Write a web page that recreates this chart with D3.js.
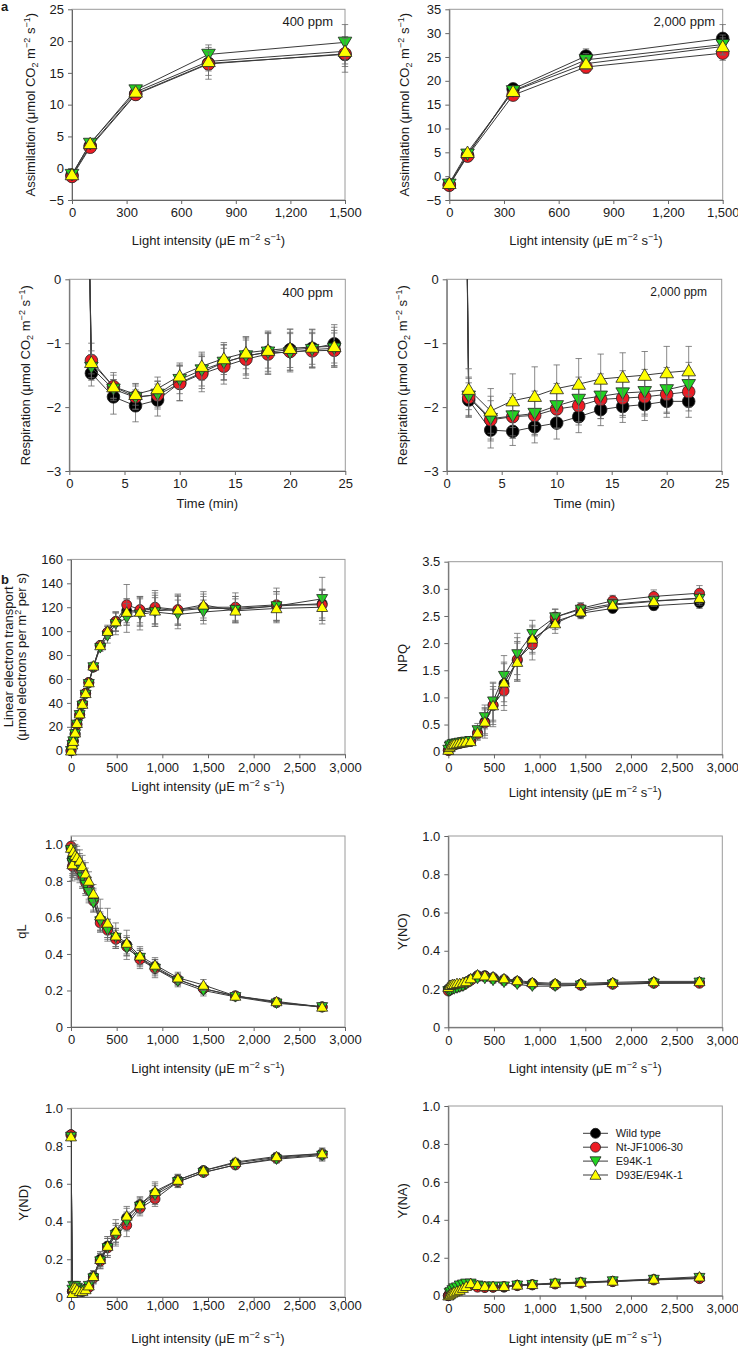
<!DOCTYPE html>
<html><head><meta charset="utf-8">
<script src="https://cdn.jsdelivr.net/npm/d3@7"></script>
<style>
body{margin:0;background:#fff}
svg{display:block}
text{font-family:"Liberation Sans",Arial,Helvetica,sans-serif;fill:#1a1a1a}
</style>
</head><body>
<svg id="c" width="738" height="1347"></svg>
<script>
// ---------- data ----------
const SERIES = ["Wild type", "Nt-JF1006-30", "E94K-1", "D93E/E94K-1"];
const COLORS = ["#000000", "#ec1c24", "#22d322", "#ffff00"];
const SHAPES = ["circle", "circle", "down", "up"];

const LIGHT_A = [0, 100, 350, 750, 1500];
const A400_VAL = [
  [-1.1, 3.5, 11.7, 16.5, 17.9],
  [-1.3, 3.3, 11.6, 16.4, 18.0],
  [-1.0, 3.9, 12.3, 17.9, 19.8],
  [-1.0, 3.9, 12.0, 16.8, 18.4]
];
const A400_ERR = [
  [0.4, 0.5, 0.8, 2.5, 2.8],
  [0.4, 0.5, 0.6, 1.8, 2.0],
  [0.4, 0.5, 0.6, 1.5, 2.8],
  [0.4, 0.5, 0.6, 1.5, 2.0]
];
const A2000_VAL = [
  [-1.8, 4.4, 18.3, 25.2, 28.9],
  [-1.9, 4.2, 17.0, 22.9, 25.8],
  [-1.7, 4.6, 17.9, 24.4, 27.6],
  [-1.5, 5.0, 17.8, 23.6, 27.2]
];
const A2000_ERR = [
  [0.5, 0.5, 0.6, 1.5, 2.9],
  [0.5, 0.5, 0.6, 1.3, 1.5],
  [0.5, 0.5, 0.6, 1.3, 2.0],
  [0.5, 0.5, 0.6, 1.2, 1.8]
];

const TIME_400 = [0, 2, 4, 6, 8, 10, 12, 14, 16, 18, 20, 22, 24];
const R400_VAL = [
  [17.9, -1.47, -1.84, -1.98, -1.89, -1.62, -1.46, -1.30, -1.20, -1.14, -1.10, -1.08, -1.01],
  [18.0, -1.27, -1.68, -1.84, -1.81, -1.63, -1.48, -1.36, -1.25, -1.17, -1.13, -1.12, -1.11],
  [19.8, -1.38, -1.72, -1.85, -1.80, -1.57, -1.42, -1.30, -1.20, -1.14, -1.15, -1.10, -1.08],
  [18.4, -1.30, -1.68, -1.80, -1.71, -1.51, -1.36, -1.24, -1.15, -1.11, -1.08, -1.06, -1.05]
];
const R400_ERR = [
  [0, 0.20, 0.27, 0.25, 0.25, 0.28, 0.25, 0.28, 0.30, 0.33, 0.32, 0.30, 0.30],
  [0, 0.27, 0.22, 0.20, 0.22, 0.27, 0.28, 0.28, 0.30, 0.32, 0.30, 0.27, 0.27],
  [0, 0.20, 0.15, 0.18, 0.20, 0.22, 0.25, 0.27, 0.28, 0.30, 0.30, 0.27, 0.28],
  [0, 0.18, 0.18, 0.17, 0.18, 0.20, 0.22, 0.25, 0.25, 0.28, 0.30, 0.27, 0.30]
];

const TIME_2000 = [0, 2, 4, 6, 8, 10, 12, 14, 16, 18, 20, 22];
const R2000_VAL = [
  [28.9, -1.89, -2.36, -2.38, -2.31, -2.25, -2.15, -2.04, -1.99, -1.96, -1.91, -1.91],
  [25.8, -1.85, -2.20, -2.15, -2.13, -2.03, -1.98, -1.88, -1.86, -1.84, -1.80, -1.76],
  [27.6, -1.83, -2.18, -2.14, -2.10, -1.98, -1.88, -1.83, -1.78, -1.76, -1.73, -1.65],
  [27.2, -1.72, -2.06, -1.90, -1.83, -1.71, -1.64, -1.56, -1.53, -1.50, -1.46, -1.43]
];
const R2000_ERR = [
  [0, 0.27, 0.28, 0.22, 0.25, 0.25, 0.25, 0.25, 0.25, 0.25, 0.25, 0.25],
  [0, 0.30, 0.30, 0.30, 0.30, 0.30, 0.30, 0.30, 0.30, 0.30, 0.30, 0.30],
  [0, 0.30, 0.35, 0.35, 0.35, 0.35, 0.35, 0.35, 0.35, 0.35, 0.35, 0.35],
  [0, 0.32, 0.35, 0.42, 0.46, 0.37, 0.40, 0.39, 0.38, 0.37, 0.41, 0.38]
];

const LIGHT_B = [0, 15, 25, 45, 65, 95, 125, 160, 195, 245, 320, 400, 490, 610, 755, 920, 1170, 1450, 1800, 2250, 2750];
const LET_VAL = [
  [0, 5, 8, 14, 22, 30, 39, 48, 57, 70, 88, 99, 108, 117, 117, 119, 117, 119, 119, 121, 123],
  [0, 5, 8, 14, 22, 30, 39, 48, 57, 70, 88, 99, 108, 122, 118, 120, 118, 120, 120, 122, 122],
  [0, 5, 8, 14, 22, 30, 38, 47, 56, 70, 86, 96, 106, 111, 114, 116, 114, 116, 118, 121, 127],
  [0, 5, 8, 15, 23, 31, 39, 48, 57, 71, 88, 100, 108, 116, 116, 117, 118, 122, 117, 119, 120]
];
const LET_ERR = [
  [0, 1, 1, 1, 1, 2, 2, 2, 2, 3, 3, 5, 8, 10, 12, 13, 12, 10, 10, 12, 12],
  [0, 1, 1, 1, 1, 2, 2, 2, 2, 3, 3, 5, 8, 17, 11, 14, 13, 11, 12, 14, 13],
  [0, 1, 1, 1, 1, 2, 2, 2, 2, 3, 3, 6, 9, 12, 13, 12, 12, 10, 11, 12, 18],
  [0, 1, 1, 1, 1, 2, 2, 2, 2, 3, 3, 5, 8, 11, 12, 13, 12, 11, 10, 12, 14]
];
const NPQ_VAL = [
  [0.03, 0.08, 0.10, 0.12, 0.13, 0.15, 0.16, 0.17, 0.18, 0.19, 0.35, 0.55, 0.85, 1.25, 1.68, 2.05, 2.40, 2.55, 2.64, 2.69, 2.74],
  [0.02, 0.07, 0.10, 0.12, 0.13, 0.14, 0.15, 0.17, 0.18, 0.19, 0.33, 0.53, 0.86, 1.12, 1.70, 1.97, 2.48, 2.64, 2.78, 2.86, 2.92],
  [0.04, 0.10, 0.12, 0.14, 0.15, 0.16, 0.17, 0.18, 0.19, 0.20, 0.40, 0.64, 0.93, 1.40, 1.80, 2.17, 2.48, 2.62, 2.72, 2.78, 2.82],
  [0.03, 0.08, 0.11, 0.13, 0.14, 0.15, 0.16, 0.17, 0.18, 0.19, 0.35, 0.55, 0.85, 1.27, 1.65, 2.08, 2.36, 2.58, 2.70, 2.77, 2.83]
];
const NPQ_ERR = [
  [0.01, 0.02, 0.02, 0.02, 0.02, 0.02, 0.02, 0.02, 0.02, 0.03, 0.12, 0.25, 0.35, 0.40, 0.35, 0.25, 0.15, 0.10, 0.08, 0.08, 0.10],
  [0.01, 0.02, 0.02, 0.02, 0.02, 0.02, 0.02, 0.02, 0.02, 0.03, 0.12, 0.28, 0.40, 0.36, 0.40, 0.28, 0.15, 0.10, 0.10, 0.12, 0.14],
  [0.01, 0.02, 0.02, 0.02, 0.02, 0.02, 0.02, 0.02, 0.02, 0.03, 0.12, 0.22, 0.35, 0.37, 0.38, 0.25, 0.14, 0.12, 0.10, 0.10, 0.12],
  [0.01, 0.02, 0.02, 0.02, 0.02, 0.02, 0.02, 0.02, 0.02, 0.03, 0.10, 0.22, 0.30, 0.35, 0.35, 0.25, 0.18, 0.10, 0.08, 0.08, 0.10]
];
const QL_VAL = [
  [0.98, 0.92, 0.93, 0.92, 0.90, 0.88, 0.84, 0.80, 0.76, 0.70, 0.59, 0.54, 0.49, 0.45, 0.38, 0.33, 0.26, 0.21, 0.17, 0.135, 0.11],
  [0.99, 0.88, 0.90, 0.90, 0.88, 0.86, 0.83, 0.79, 0.75, 0.69, 0.57, 0.53, 0.48, 0.44, 0.37, 0.32, 0.26, 0.21, 0.17, 0.135, 0.11],
  [0.97, 0.90, 0.91, 0.90, 0.88, 0.86, 0.82, 0.78, 0.74, 0.68, 0.58, 0.53, 0.49, 0.43, 0.38, 0.32, 0.25, 0.20, 0.165, 0.13, 0.11],
  [0.98, 0.89, 0.96, 0.94, 0.93, 0.91, 0.88, 0.84, 0.80, 0.73, 0.61, 0.57, 0.50, 0.46, 0.39, 0.34, 0.27, 0.23, 0.17, 0.14, 0.11]
];
const QL_ERR = [
  [0.02, 0.08, 0.07, 0.07, 0.07, 0.07, 0.07, 0.07, 0.06, 0.06, 0.06, 0.05, 0.05, 0.05, 0.04, 0.04, 0.03, 0.03, 0.02, 0.02, 0.02],
  [0.02, 0.08, 0.08, 0.07, 0.07, 0.07, 0.07, 0.06, 0.06, 0.06, 0.05, 0.06, 0.05, 0.05, 0.05, 0.04, 0.03, 0.02, 0.02, 0.02, 0.02],
  [0.02, 0.07, 0.07, 0.07, 0.07, 0.06, 0.06, 0.06, 0.06, 0.05, 0.05, 0.05, 0.05, 0.06, 0.05, 0.05, 0.03, 0.03, 0.02, 0.02, 0.02],
  [0.02, 0.07, 0.06, 0.06, 0.06, 0.06, 0.06, 0.06, 0.05, 0.05, 0.09, 0.08, 0.07, 0.07, 0.05, 0.04, 0.03, 0.03, 0.02, 0.02, 0.02]
];
const YNO_VAL = [
  [0.20, 0.20, 0.205, 0.21, 0.21, 0.215, 0.22, 0.225, 0.235, 0.25, 0.27, 0.27, 0.26, 0.25, 0.24, 0.23, 0.225, 0.225, 0.23, 0.235, 0.235],
  [0.19, 0.195, 0.20, 0.205, 0.21, 0.21, 0.215, 0.22, 0.23, 0.245, 0.265, 0.265, 0.255, 0.245, 0.235, 0.225, 0.22, 0.22, 0.225, 0.23, 0.23],
  [0.19, 0.19, 0.195, 0.20, 0.20, 0.205, 0.21, 0.215, 0.225, 0.24, 0.255, 0.255, 0.245, 0.235, 0.225, 0.215, 0.215, 0.22, 0.225, 0.23, 0.235],
  [0.21, 0.22, 0.22, 0.225, 0.225, 0.23, 0.23, 0.235, 0.24, 0.255, 0.275, 0.27, 0.265, 0.255, 0.245, 0.235, 0.23, 0.23, 0.235, 0.24, 0.24]
];
const YNO_ERR = [
  [0.01, 0.01, 0.01, 0.01, 0.01, 0.01, 0.01, 0.01, 0.01, 0.01, 0.015, 0.015, 0.015, 0.015, 0.01, 0.01, 0.01, 0.01, 0.01, 0.01, 0.01],
  [0.01, 0.01, 0.01, 0.01, 0.01, 0.01, 0.01, 0.01, 0.01, 0.01, 0.015, 0.015, 0.015, 0.015, 0.01, 0.01, 0.01, 0.01, 0.01, 0.01, 0.01],
  [0.01, 0.01, 0.01, 0.01, 0.01, 0.01, 0.01, 0.01, 0.01, 0.01, 0.015, 0.015, 0.015, 0.015, 0.01, 0.01, 0.01, 0.01, 0.01, 0.01, 0.01],
  [0.01, 0.01, 0.01, 0.01, 0.01, 0.01, 0.01, 0.01, 0.01, 0.01, 0.015, 0.015, 0.015, 0.015, 0.01, 0.01, 0.01, 0.01, 0.01, 0.01, 0.01]
];
const YND_VAL = [
  [0.86, 0.03, 0.04, 0.05, 0.05, 0.04, 0.03, 0.04, 0.06, 0.11, 0.20, 0.27, 0.34, 0.42, 0.49, 0.55, 0.62, 0.67, 0.71, 0.74, 0.76],
  [0.86, 0.03, 0.03, 0.04, 0.04, 0.03, 0.03, 0.04, 0.05, 0.10, 0.19, 0.26, 0.33, 0.38, 0.47, 0.52, 0.61, 0.66, 0.70, 0.735, 0.755],
  [0.85, 0.04, 0.06, 0.06, 0.05, 0.04, 0.03, 0.04, 0.06, 0.10, 0.19, 0.26, 0.33, 0.40, 0.48, 0.54, 0.61, 0.66, 0.70, 0.73, 0.75],
  [0.85, 0.02, 0.05, 0.05, 0.04, 0.03, 0.03, 0.04, 0.06, 0.11, 0.20, 0.27, 0.35, 0.43, 0.49, 0.56, 0.62, 0.67, 0.715, 0.745, 0.76]
];
const YND_ERR = [
  [0.01, 0.01, 0.02, 0.02, 0.02, 0.01, 0.01, 0.01, 0.02, 0.03, 0.04, 0.05, 0.05, 0.05, 0.04, 0.05, 0.03, 0.02, 0.02, 0.02, 0.03],
  [0.01, 0.01, 0.02, 0.02, 0.02, 0.01, 0.01, 0.01, 0.02, 0.03, 0.04, 0.05, 0.05, 0.06, 0.04, 0.04, 0.03, 0.02, 0.02, 0.02, 0.03],
  [0.01, 0.02, 0.02, 0.02, 0.02, 0.01, 0.01, 0.01, 0.02, 0.03, 0.04, 0.05, 0.06, 0.05, 0.04, 0.05, 0.03, 0.02, 0.02, 0.02, 0.03],
  [0.01, 0.01, 0.02, 0.02, 0.02, 0.01, 0.01, 0.01, 0.02, 0.03, 0.04, 0.05, 0.06, 0.05, 0.04, 0.05, 0.03, 0.02, 0.02, 0.02, 0.02]
];
const YNA_VAL = [
  [0.0, 0.01, 0.015, 0.02, 0.025, 0.03, 0.04, 0.05, 0.055, 0.06, 0.05, 0.045, 0.045, 0.045, 0.055, 0.058, 0.063, 0.07, 0.075, 0.085, 0.093],
  [0.0, 0.01, 0.015, 0.02, 0.025, 0.03, 0.04, 0.05, 0.055, 0.06, 0.045, 0.043, 0.045, 0.048, 0.053, 0.057, 0.062, 0.066, 0.074, 0.083, 0.09],
  [-0.005, 0.015, 0.02, 0.03, 0.04, 0.045, 0.055, 0.06, 0.065, 0.065, 0.055, 0.05, 0.05, 0.05, 0.055, 0.058, 0.065, 0.07, 0.077, 0.085, 0.095],
  [0.0, 0.005, 0.01, 0.015, 0.02, 0.025, 0.03, 0.04, 0.05, 0.065, 0.055, 0.05, 0.05, 0.05, 0.057, 0.06, 0.067, 0.072, 0.078, 0.088, 0.10]
];
const YNA_ERR = [
  [0.005, 0.005, 0.005, 0.005, 0.005, 0.005, 0.005, 0.005, 0.005, 0.01, 0.01, 0.01, 0.01, 0.01, 0.01, 0.01, 0.01, 0.01, 0.01, 0.01, 0.01],
  [0.005, 0.005, 0.005, 0.005, 0.005, 0.005, 0.005, 0.005, 0.005, 0.01, 0.01, 0.01, 0.01, 0.01, 0.01, 0.01, 0.01, 0.01, 0.01, 0.01, 0.01],
  [0.005, 0.005, 0.005, 0.005, 0.005, 0.005, 0.005, 0.005, 0.005, 0.01, 0.01, 0.01, 0.01, 0.01, 0.01, 0.01, 0.01, 0.01, 0.01, 0.01, 0.01],
  [0.005, 0.005, 0.005, 0.005, 0.005, 0.005, 0.005, 0.005, 0.005, 0.01, 0.01, 0.01, 0.01, 0.01, 0.01, 0.01, 0.01, 0.01, 0.01, 0.01, 0.012]
];

const XT_A = [0, 300, 600, 900, 1200, 1500];
const YT_A400 = [-5, 0, 5, 10, 15, 20, 25];
const YT_A2000 = [-5, 0, 5, 10, 15, 20, 25, 30, 35];
const XT_T = [0, 5, 10, 15, 20, 25];
const YT_R = [-3, -2, -1, 0];
const XT_B = [0, 500, 1000, 1500, 2000, 2500, 3000];
const YT_LET = [0, 20, 40, 60, 80, 100, 120, 140, 160];
const YT_NPQ = [0, 0.5, 1, 1.5, 2, 2.5, 3, 3.5];
const YT_FRAC = [0, 0.2, 0.4, 0.6, 0.8, 1.0];

// ---------- labels ----------
const ASSIM = [["Assimilation (\u03bcmol CO", ""], ["2", "sub"], [" m", ""], ["\u22122", "sup"], [" s", ""], ["\u22121", "sup"], [")", ""]];
const RESP = [["Respiration (\u03bcmol CO", ""], ["2", "sub"], [" m", ""], ["\u22122", "sup"], [" s", ""], ["\u22121", "sup"], [")", ""]];
const LIGHT_LBL = [["Light intensity (\u03bcE m", ""], ["\u22122", "sup"], [" s", ""], ["\u22121", "sup"], [")", ""]];
const TIME_LBL = [["Time (min)", ""]];
const LET1 = [["Linear electron transport", ""]];
const LET2 = [["(\u03bcmol electrons per m", ""], ["2", "sup"], [" per s)", ""]];

// ---------- drawing ----------
const svg = d3.select("#c");
const FS = 13;
const fmtInt = d3.format(",");
const fmtFrac = d => d === 0 ? "0" : d3.format(".1f")(d);
const BIG = {r: 6.3, w: 6.8, h: 11.5};
const SMALL = {r: 5, w: 5.5, h: 9.5};

function rich(sel, parts, fs) {
  parts.forEach(([t, m], i) => {
    const ts = sel.append("tspan").text(t);
    const prev = i > 0 ? parts[i - 1][1] : "";
    if (m === "sup") ts.attr("font-size", fs * 0.7).attr("dy", -fs * 0.4);
    else if (m === "sub") ts.attr("font-size", fs * 0.7).attr("dy", fs * 0.25);
    else if (prev === "sup") ts.attr("dy", fs * 0.4);
    else if (prev === "sub") ts.attr("dy", -fs * 0.25);
  });
}

function drawMarker(g, shape, cx, cy, sz, color) {
  if (shape === "circle") {
    g.append("circle").attr("cx", cx).attr("cy", cy).attr("r", sz.r)
      .attr("fill", color).attr("stroke", "#222").attr("stroke-width", 0.8);
  } else {
    const s = shape === "up" ? 1 : -1;
    const w = sz.w, h = sz.h;
    g.append("path")
      .attr("d", `M${cx},${cy - s * h * 0.55}L${cx + w},${cy + s * h * 0.45}L${cx - w},${cy + s * h * 0.45}Z`)
      .attr("fill", color).attr("stroke", "#222").attr("stroke-width", 0.8).attr("stroke-linejoin", "round");
  }
}

const PANELS = [
  {px: [72, 345], py: [200, 9.3], xd: [0, 1500], yd: [-5, 25], xt: XT_A, yt: YT_A400, xs: LIGHT_A, vals: A400_VAL, errs: A400_ERR, msz: BIG, yfmt: fmtInt,
   yl: [{parts: ASSIM, x: 35}], xl: {parts: LIGHT_LBL, y: 245}, note: {t: "400 ppm", x: 333, y: 25.5, fs: 13}},
  {px: [449.3, 722.7], py: [200, 9.3], xd: [0, 1500], yd: [-5, 35], xt: XT_A, yt: YT_A2000, xs: LIGHT_A, vals: A2000_VAL, errs: A2000_ERR, msz: BIG, yfmt: fmtInt,
   yl: [{parts: ASSIM, x: 409}], xl: {parts: LIGHT_LBL, y: 245}, note: {t: "2,000 ppm", x: 715, y: 25.5, fs: 13}},
  {px: [69.3, 345.3], py: [471, 279.3], xd: [0, 25], yd: [-3, 0], xt: XT_T, yt: YT_R, xs: TIME_400, vals: R400_VAL, errs: R400_ERR, msz: BIG, yfmt: fmtInt,
   yl: [{parts: RESP, x: 30}], xl: {parts: TIME_LBL, y: 508}, note: {t: "400 ppm", x: 333, y: 297, fs: 13}},
  {px: [446.7, 721.7], py: [471, 279.3], xd: [0, 25], yd: [-3, 0], xt: XT_T, yt: YT_R, xs: TIME_2000, vals: R2000_VAL, errs: R2000_ERR, msz: BIG, yfmt: fmtInt,
   yl: [{parts: RESP, x: 407}], xl: {parts: TIME_LBL, y: 508}, note: {t: "2,000 ppm", x: 707, y: 296, fs: 12}},
  {px: [71, 345], py: [754.3, 559.4], xd: [0, 3000], yd: [-3, 160], xt: XT_B, yt: YT_LET, xs: LIGHT_B, vals: LET_VAL, errs: LET_ERR, msz: SMALL, yfmt: fmtInt,
   yl: [{parts: LET1, x: 12.5}, {parts: LET2, x: 26}], xl: {parts: LIGHT_LBL, y: 791}},
  {px: [448.3, 722.3], py: [754.4, 561.7], xd: [0, 3000], yd: [-0.05, 3.5], xt: XT_B, yt: YT_NPQ, xs: LIGHT_B, vals: NPQ_VAL, errs: NPQ_ERR, msz: SMALL, yfmt: fmtFrac,
   yl: [{parts: [["NPQ", ""]], x: 407}], xl: {parts: LIGHT_LBL, y: 797}},
  {px: [71, 345], py: [1027, 836], xd: [0, 3000], yd: [0, 1.046], xt: XT_B, yt: YT_FRAC, xs: LIGHT_B, vals: QL_VAL, errs: QL_ERR, msz: SMALL, yfmt: fmtFrac,
   yl: [{parts: [["qL", ""]], x: 26}], xl: {parts: LIGHT_LBL, y: 1073}},
  {px: [448.3, 722.3], py: [1027.3, 836], xd: [0, 3000], yd: [0, 1], xt: XT_B, yt: YT_FRAC, xs: LIGHT_B, vals: YNO_VAL, errs: YNO_ERR, msz: SMALL, yfmt: fmtFrac,
   yl: [{parts: [["Y(NO)", ""]], x: 406.5}], xl: {parts: LIGHT_LBL, y: 1073}},
  {px: [71, 345], py: [1297, 1108.3], xd: [0, 3000], yd: [0, 1], xt: XT_B, yt: YT_FRAC, xs: LIGHT_B, vals: YND_VAL, errs: YND_ERR, msz: SMALL, yfmt: fmtFrac, xpad: 0,
   yl: [{parts: [["Y(ND)", ""]], x: 28}], xl: {parts: LIGHT_LBL, y: 1343}},
  {px: [448.3, 722.3], py: [1295.7, 1106], xd: [0, 3000], yd: [0, 1], xt: XT_B, yt: YT_FRAC, xs: LIGHT_B, vals: YNA_VAL, errs: YNA_ERR, msz: SMALL, yfmt: fmtFrac,
   yl: [{parts: [["Y(NA)", ""]], x: 406.5}], xl: {parts: LIGHT_LBL, y: 1343}, legend: {x0: 583, x1: 608, tx: 615.7, y: 1133.3, dy: 13.9}}
];

PANELS.forEach((p, pi) => {
  const x = d3.scaleLinear().domain(p.xd).range(p.px);
  const y = d3.scaleLinear().domain(p.yd).range(p.py);
  const g = svg.append("g");
  const top = p.py[1], bot = p.py[0];

  // frame
  g.append("rect").attr("x", p.px[0]).attr("y", top)
    .attr("width", p.px[1] - p.px[0]).attr("height", bot - top)
    .attr("fill", "none").attr("stroke", "#9a9a9a").attr("stroke-width", 1);

  // axes
  const ax = g.append("g").attr("transform", `translate(0,${bot})`)
    .call(d3.axisBottom(x).tickValues(p.xt).tickSize(4).tickSizeOuter(0)
      .tickPadding(p.xpad !== undefined ? p.xpad : 4).tickFormat(fmtInt));
  const ay = g.append("g").attr("transform", `translate(${p.px[0]},0)`)
    .call(d3.axisLeft(y).tickValues(p.yt).tickSize(4).tickSizeOuter(0).tickPadding(4).tickFormat(p.yfmt));
  [ax, ay].forEach(a => {
    a.select(".domain").attr("stroke", "#666");
    a.selectAll(".tick line").attr("stroke", "#666");
    a.selectAll(".tick text").attr("font-size", FS).attr("font-family", "Liberation Sans, Arial, sans-serif").attr("fill", "#1a1a1a");
  });

  // clip for lines
  const cid = "clip" + pi;
  svg.append("clipPath").attr("id", cid).append("rect")
    .attr("x", p.px[0]).attr("y", top).attr("width", p.px[1] - p.px[0]).attr("height", bot - top);

  const inY = v => v >= Math.min(...p.yd) && v <= Math.max(...p.yd);

  p.vals.forEach((vals, si) => {
    const pts = vals.map((v, i) => ({x: p.xs[i], v, e: p.errs[si][i]}));
    // line
    g.append("path").datum(pts)
      .attr("clip-path", `url(#${cid})`)
      .attr("d", d3.line().x(d => x(d.x)).y(d => y(d.v)))
      .attr("fill", "none").attr("stroke", "#3a3a3a").attr("stroke-width", 1);
    // error bars
    pts.filter(d => inY(d.v) && d.e > 0).forEach(d => {
      const cx = x(d.x), y1 = y(d.v + d.e), y2 = y(d.v - d.e);
      const eb = g.append("g").attr("stroke", "#6a6a6a").attr("stroke-width", 0.8);
      eb.append("line").attr("x1", cx).attr("x2", cx).attr("y1", y1).attr("y2", y2);
      eb.append("line").attr("x1", cx - 3.2).attr("x2", cx + 3.2).attr("y1", y1).attr("y2", y1);
      eb.append("line").attr("x1", cx - 3.2).attr("x2", cx + 3.2).attr("y1", y2).attr("y2", y2);
    });
    // markers
    pts.filter(d => inY(d.v)).forEach(d => drawMarker(g, SHAPES[si], x(d.x), y(d.v), p.msz, COLORS[si]));
  });

  // y label(s)
  const cy = (top + bot) / 2;
  p.yl.forEach(l => {
    const t = g.append("text").attr("transform", `translate(${l.x},${cy}) rotate(-90)`)
      .attr("text-anchor", "middle").attr("font-size", FS);
    rich(t, l.parts, FS);
  });
  // x label
  const tx = g.append("text").attr("x", (p.px[0] + p.px[1]) / 2).attr("y", p.xl.y)
    .attr("text-anchor", "middle").attr("font-size", FS);
  rich(tx, p.xl.parts, FS);

  if (p.note) {
    g.append("text").attr("x", p.note.x).attr("y", p.note.y).attr("text-anchor", "end")
      .attr("font-size", p.note.fs).text(p.note.t);
  }

  if (p.legend) {
    const L = p.legend;
    SERIES.forEach((name, si) => {
      const ly = L.y + si * L.dy;
      g.append("line").attr("x1", L.x0).attr("x2", L.x1).attr("y1", ly).attr("y2", ly)
        .attr("stroke", "#3a3a3a").attr("stroke-width", 1);
      drawMarker(g, SHAPES[si], (L.x0 + L.x1) / 2, ly, SMALL, COLORS[si]);
      g.append("text").attr("x", L.tx).attr("y", ly + 4).attr("font-size", 11).text(name);
    });
  }
});

// panel letters
svg.append("text").attr("x", 1).attr("y", 11).attr("font-size", 13).attr("font-weight", "bold").text("a");
svg.append("text").attr("x", 1).attr("y", 584).attr("font-size", 13).attr("font-weight", "bold").text("b");
</script>
</body></html>
